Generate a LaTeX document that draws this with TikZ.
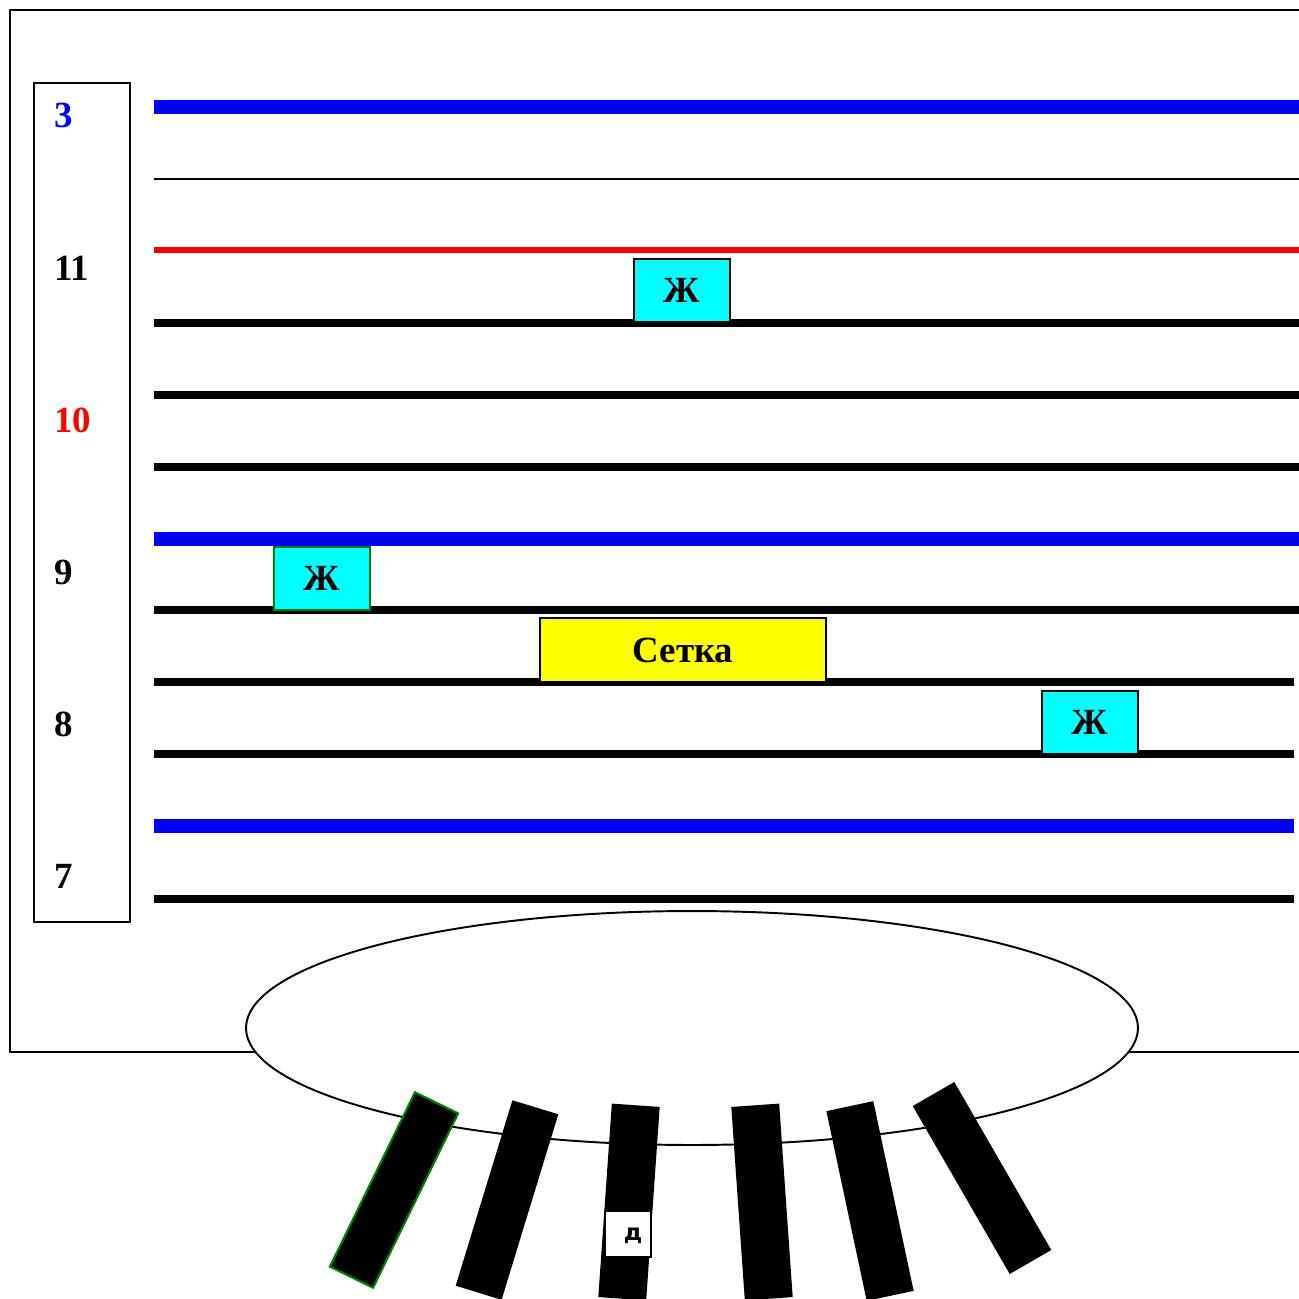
\documentclass[tikz,border=0pt]{standalone}
\usepackage{fontspec}
\setmainfont{Liberation Serif}
\newfontfamily\barfont{DejaVu Sans}
\definecolor{aqua}{RGB}{0,255,255}
\definecolor{lemon}{RGB}{255,255,0}
\begin{document}
\begin{tikzpicture}[x=0.02cm, y=-0.02cm, line join=miter,
        every node/.style={font=\fontsize{21}{25}\selectfont\bfseries, inner sep=0pt},
        floor/.style={line width=4pt},
        zhbox/.style={draw, fill=aqua, line width=1pt, minimum width=1.92cm, minimum height=1.26cm},
        bar/.style={fill=black, minimum width=0.96cm, minimum height=3.88cm}]
        \useasboundingbox (0,0) rectangle (1299,1299);
        \draw[line width=1.2pt] (10,10) rectangle (1320,1052);
        \draw[line width=1.2pt] (34,83) rectangle (130,922);
        \node[anchor=west, text=blue] (n3) at (54,115) {3};
        \node[anchor=west] (n11) at (54,268) {11};
        \node[anchor=west, text=red] (n10) at (54,420) {10};
        \node[anchor=west] (n9) at (54,572) {9};
        \node[anchor=west] (n8) at (54,724) {8};
        \node[anchor=west] (n7) at (54,876) {7};
        \draw[blue, line width=8.5pt] (154,107) -- (1299,107);
        \draw[line width=1.1pt] (154,179) -- (1299,179);
        \draw[red, line width=3.4pt] (154,250) -- (1299,250);
        \draw[floor] (154,323) -- (1299,323);
        \draw[floor] (154,395) -- (1299,395);
        \draw[floor] (154,467) -- (1299,467);
        \draw[blue, line width=8pt] (154,539) -- (1299,539);
        \draw[floor] (154,610) -- (1299,610);
        \draw[floor] (154,682) -- (1294,682);
        \draw[floor] (154,754) -- (1294,754);
        \draw[blue, line width=8.5pt] (154,826) -- (1294,826);
        \draw[floor] (154,899) -- (1294,899);
        \node[zhbox] (zh1) at (682,290.5) {Ж};
        \node[zhbox, draw=green!50!black, line width=1.4pt] (zh2) at (322,578.5) {Ж};
        \node[draw, fill=lemon, line width=1pt, minimum width=5.72cm, minimum height=1.28cm] (setka) at (683,650) {Сетка};
        \node[zhbox] (zh3) at (1090,722.5) {Ж};
        \draw[line width=1.1pt, fill=white] (692,1028) ellipse [x radius=8.92cm, y radius=2.34cm];
        \node[bar, draw=green!50!black, line width=1.2pt, rotate=-26] (b1) at (394,1190) {};
        \node[bar, rotate=-17] (b2) at (507,1200) {};
        \node[bar, rotate=-4] (b3) at (629,1202) {};
        \node[bar, rotate=4] (b4) at (762,1202) {};
        \node[bar, rotate=12] (b5) at (870,1201) {};
        \node[bar, rotate=30] (b6) at (982,1178) {};
        \node[draw, fill=white, line width=0.8pt, minimum size=0.92cm, font=\barfont\fontsize{13}{15}\selectfont\bfseries, text depth=0pt] (d) at (628,1234) {\hspace{0.2cm}д};
    \end{tikzpicture}
\end{document}
